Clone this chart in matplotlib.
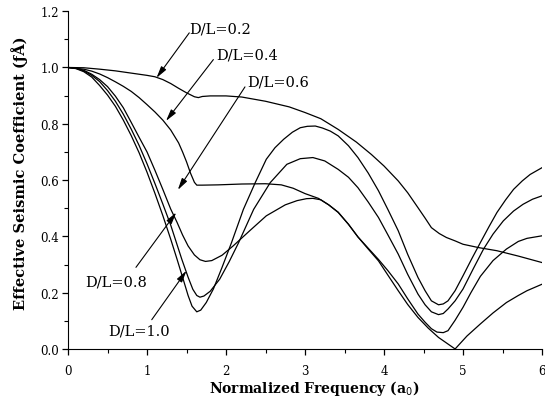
import matplotlib
matplotlib.use("Agg")
import matplotlib.pyplot as plt
from matplotlib.ticker import MultipleLocator

# D/L = 0.2
x_02 = [0, 0.2, 0.4, 0.6, 0.8, 1.0, 1.1, 1.2, 1.3, 1.4, 1.5, 1.6, 1.65, 1.7, 1.8, 2.0, 2.2, 2.5, 2.8, 3.0,
        3.2, 3.42, 3.65, 3.84, 4.0, 4.18, 4.3, 4.43, 4.52, 4.6, 4.7, 4.79, 4.9, 5.0, 5.2, 5.43, 5.7, 6.0]
y_02 = [1.0, 0.999, 0.994, 0.988, 0.980, 0.972, 0.967, 0.957, 0.943, 0.926, 0.910, 0.896, 0.893, 0.897, 0.899,
        0.899, 0.895, 0.880, 0.860, 0.840, 0.818, 0.780, 0.735, 0.691, 0.650, 0.597, 0.555, 0.502, 0.465, 0.431,
        0.410, 0.396, 0.384, 0.372, 0.360, 0.349, 0.330, 0.307]

# D/L = 0.4
x_04 = [0, 0.2, 0.3, 0.4, 0.5, 0.6, 0.7, 0.8, 0.9, 1.0, 1.1, 1.2, 1.3, 1.4, 1.45, 1.5, 1.55, 1.6, 1.63, 1.7,
        1.9, 2.2, 2.5, 2.7, 2.85, 3.0, 3.17, 3.3, 3.42, 3.55, 3.67, 3.8, 3.93, 4.05, 4.18, 4.3, 4.43, 4.56,
        4.69, 4.9, 5.05, 5.22, 5.38, 5.55, 5.7, 5.81, 6.0]
y_04 = [1.0, 0.994, 0.987, 0.977, 0.964, 0.949, 0.933, 0.915, 0.893, 0.868, 0.842, 0.813, 0.778, 0.732, 0.70,
        0.665, 0.625, 0.592, 0.582, 0.582, 0.583, 0.586, 0.587, 0.583, 0.571, 0.552, 0.535, 0.512, 0.485, 0.443,
        0.398, 0.355, 0.313, 0.262, 0.207, 0.158, 0.112, 0.074, 0.041, 0.0, 0.046, 0.089, 0.128, 0.165, 0.19,
        0.207, 0.23]

# D/L = 0.6
x_06 = [0, 0.1, 0.2, 0.3, 0.4, 0.5, 0.6, 0.7, 0.8, 0.9, 1.0, 1.1, 1.2, 1.3, 1.38, 1.45, 1.52, 1.6, 1.67, 1.74,
        1.82, 1.95, 2.09, 2.3, 2.51, 2.75, 2.9, 3.02, 3.1, 3.2, 3.3, 3.42, 3.55, 3.67, 3.8, 3.93, 4.05, 4.18,
        4.3, 4.43, 4.52, 4.6, 4.67, 4.75, 4.81, 4.9, 5.0, 5.1, 5.22, 5.38, 5.55, 5.7, 5.81, 6.0]
y_06 = [1.0, 0.998, 0.99, 0.976, 0.957, 0.932, 0.898, 0.857, 0.805, 0.752, 0.70, 0.635, 0.567, 0.497, 0.45,
        0.405, 0.366, 0.334, 0.317, 0.311, 0.314, 0.333, 0.366, 0.42, 0.473, 0.512, 0.527, 0.534, 0.535, 0.53,
        0.512, 0.486, 0.443, 0.398, 0.358, 0.318, 0.278, 0.231, 0.178, 0.124, 0.095, 0.072, 0.06, 0.058,
        0.065, 0.102, 0.148, 0.2, 0.258, 0.314, 0.355, 0.382, 0.393, 0.402]

# D/L = 0.8
x_08 = [0, 0.1, 0.2, 0.3, 0.4, 0.5, 0.6, 0.7, 0.8, 0.9, 1.0, 1.1, 1.2, 1.3, 1.44, 1.52, 1.58, 1.63, 1.67, 1.72,
        1.8, 1.92, 2.04, 2.16, 2.35, 2.56, 2.77, 2.94, 3.1, 3.25, 3.42, 3.55, 3.67, 3.8, 3.93, 4.05, 4.18, 4.3,
        4.43, 4.52, 4.6, 4.69, 4.75, 4.81, 4.9, 5.0, 5.13, 5.26, 5.38, 5.51, 5.64, 5.76, 5.88, 6.0]
y_08 = [1.0, 0.997, 0.988, 0.972, 0.950, 0.918, 0.880, 0.834, 0.781, 0.723, 0.658, 0.588, 0.515, 0.44, 0.319,
        0.255, 0.212, 0.19, 0.184, 0.188, 0.205, 0.248, 0.31, 0.378, 0.496, 0.591, 0.656, 0.676, 0.68, 0.668,
        0.638, 0.61, 0.573, 0.522, 0.467, 0.405, 0.337, 0.265, 0.195, 0.157, 0.132, 0.122, 0.126, 0.142, 0.171,
        0.213, 0.285, 0.355, 0.408, 0.455, 0.49, 0.514, 0.532, 0.544]

# D/L = 1.0
x_10 = [0, 0.1, 0.2, 0.3, 0.4, 0.5, 0.6, 0.7, 0.8, 0.9, 1.0, 1.1, 1.2, 1.3, 1.38, 1.45, 1.52, 1.57, 1.63, 1.68,
        1.75, 1.84, 1.95, 2.07, 2.22, 2.37, 2.51, 2.62, 2.73, 2.84, 2.94, 3.03, 3.13, 3.22, 3.32, 3.42, 3.55,
        3.67, 3.8, 3.93, 4.05, 4.18, 4.3, 4.43, 4.52, 4.6, 4.69, 4.75, 4.81, 4.9, 5.0, 5.11, 5.22, 5.33, 5.43,
        5.54, 5.64, 5.75, 5.85, 6.0]
y_10 = [1.0, 0.996, 0.985, 0.966, 0.936, 0.902, 0.862, 0.813, 0.758, 0.697, 0.628, 0.553, 0.474, 0.39, 0.319,
        0.255, 0.19, 0.152, 0.132, 0.138, 0.165, 0.213, 0.29, 0.378, 0.496, 0.591, 0.674, 0.715, 0.745, 0.77,
        0.786, 0.791, 0.792, 0.785, 0.774, 0.757, 0.722, 0.68, 0.625, 0.562, 0.495, 0.42, 0.336, 0.254, 0.207,
        0.171, 0.157, 0.16, 0.171, 0.207, 0.26, 0.32, 0.378, 0.435, 0.485, 0.53, 0.567, 0.597, 0.62, 0.644]

labels = ["D/L=0.2", "D/L=0.4", "D/L=0.6", "D/L=0.8", "D/L=1.0"]
# text position, arrow tail, arrow head (data coords)
label_pos = [(1.54, 1.14), (1.87, 1.046), (2.27, 0.95), (0.215, 0.241), (0.51, 0.067)]
arrow_tail = [(1.535, 1.123), (1.84, 1.028), (2.24, 0.931), (0.86, 0.29), (1.06, 0.104)]
arrow_head = [(1.12, 0.963), (1.24, 0.81), (1.39, 0.565), (1.37, 0.485), (1.50, 0.278)]

plt.rcParams['font.family'] = ['DejaVu Serif']

fig = plt.figure(figsize=(5.45, 4.06), dpi=100)
ax = fig.add_axes([0.1248, 0.138, 0.8697, 0.832])

for xs, ys in [(x_02, y_02), (x_04, y_04), (x_06, y_06), (x_08, y_08), (x_10, y_10)]:
    ax.plot(xs, ys, color="black", lw=0.9)

for lab, tp, tail, head in zip(labels, label_pos, arrow_tail, arrow_head):
    ax.text(tp[0], tp[1], lab, fontsize=10.5, ha="left", va="center")
    ax.annotate("", xy=head, xytext=tail,
                arrowprops=dict(arrowstyle="-|>,head_length=0.7,head_width=0.18",
                                color="black", lw=0.8, shrinkA=0, shrinkB=0))

ax.set_xlim(0, 6)
ax.set_ylim(0, 1.2)
ax.xaxis.set_major_locator(MultipleLocator(1))
ax.xaxis.set_minor_locator(MultipleLocator(0.5))
ax.yaxis.set_major_locator(MultipleLocator(0.2))
ax.yaxis.set_minor_locator(MultipleLocator(0.1))
ax.yaxis.set_major_formatter(plt.FormatStrFormatter("%.1f"))
ax.spines["top"].set_visible(False)
ax.spines["right"].set_visible(False)
ax.tick_params(which="major", direction="out", length=4.5, width=0.9, labelsize=8.5, pad=2)
ax.tick_params(which="minor", direction="out", length=2.8, width=0.8)
ax.tick_params(axis="x", which="major", pad=6)

ax.set_xlabel("Normalized Frequency (a$_0$)", fontsize=10, fontweight="bold")
ax.set_ylabel("Effective Seismic Coefficient (ƒÅ)", fontsize=10.5, fontweight="bold")
ax.xaxis.set_label_coords(0.52, -0.085)
ax.yaxis.set_label_coords(-0.085, 0.524)

fig.savefig("out.png", dpi=100)
